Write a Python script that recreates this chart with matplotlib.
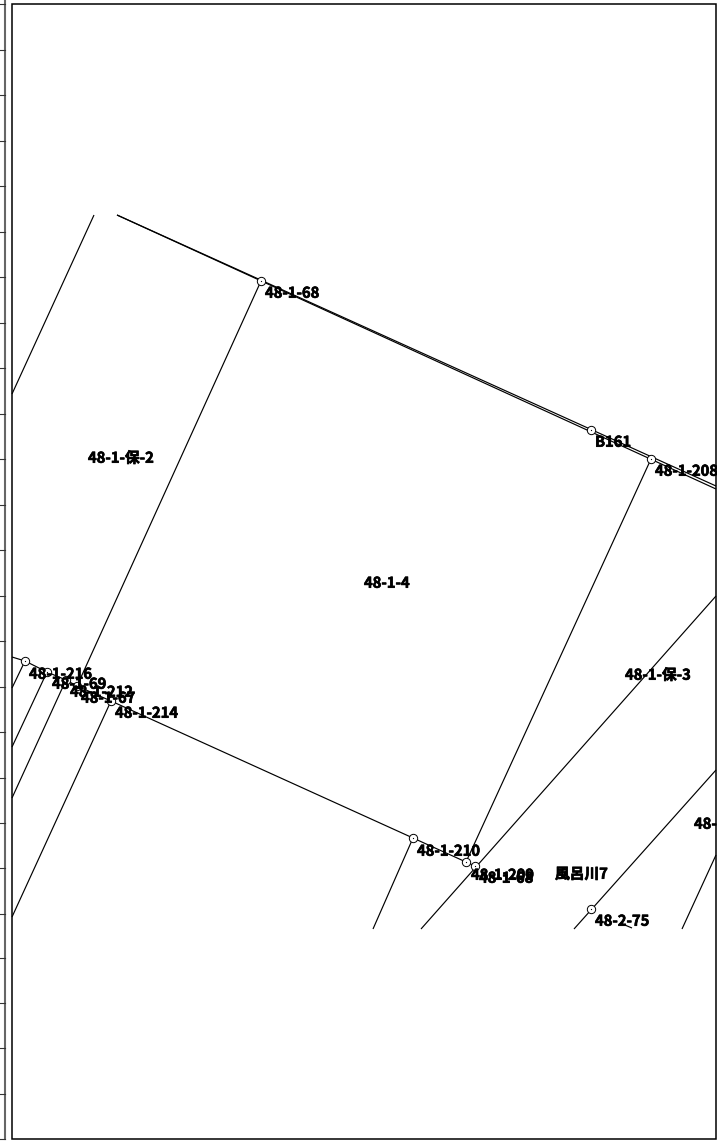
import matplotlib
matplotlib.use("Agg")
import matplotlib.pyplot as plt
import matplotlib.patheffects as pe
from matplotlib.patches import Rectangle

plt.rcParams['font.family'] = ['Noto Sans CJK JP', 'DejaVu Sans']

WIDTH, HEIGHT = 720, 1144

# Parcel boundary polylines (x, y in drawing pixels)
boundaries = [
    [(94, 215), (12, 394)],
    [(117, 215), (716, 489)],
    [(117, 215), (716, 486)],
    [(261, 281), (77, 686)],
    [(12, 657), (25, 661), (47, 672), (66, 680), (77, 686), (111, 701),
     (413, 838), (466, 862), (475, 866)],
    [(25, 661), (12, 688)],
    [(47, 672), (12, 747)],
    [(66, 680), (12, 798)],
    [(111, 701), (12, 917)],
    [(413, 838), (373, 929)],
    [(466, 862), (651, 459)],
    [(421, 929), (716, 596)],
    [(574, 929), (716, 770)],
    [(682, 929), (716, 855)],
    [(620, 923), (632, 928)],
]

# Survey points
point_x = [261, 591, 651, 25, 47, 66, 77, 111, 413, 466, 475, 591]
point_y = [281, 430, 459, 661, 672, 680, 686, 701, 838, 862, 866, 909]

# Text labels: left edge, vertical centre
label_text = ["48-1-68", "B161", "48-1-208", "48-1-保-2", "48-1-4", "48-1-保-3",
              "48-1-216", "48-1-69", "48-1-212", "48-1-67", "48-1-214",
              "48-1-210", "48-1-209", "48-1-68", "風呂川7", "48-2-75", "48-2"]
label_x = [265, 595, 655, 88, 364, 625, 29, 52, 70, 81, 115, 417, 471, 479, 555, 595, 694]
label_y = [292.7, 441.7, 470.7, 457.7, 582.7, 674.7, 673.7, 683.7, 691.7, 697.7, 712.7,
           850.7, 874.7, 877.7, 873.7, 920.7, 823.7]

# Left scale strip
scale_ticks = [4, 50, 95, 141, 186, 232, 277, 323, 368, 414, 459, 505, 550, 596,
               641, 687, 732, 778, 823, 868, 914, 958, 1003, 1048, 1094, 1139]

fig = plt.figure(figsize=(WIDTH / 100, HEIGHT / 100), dpi=100)
ax = fig.add_axes([0, 0, 1, 1])
ax.set_xlim(0, WIDTH)
ax.set_ylim(HEIGHT, 0)
ax.axis("off")

# Scale strip at far left
ax.plot([5, 5], [0, 1139], color="#666666", lw=1.5, zorder=1)
for t in scale_ticks:
    ax.plot([0, 5], [t, t], color="#333333", lw=0.8, zorder=1)

# Main frame
frame = Rectangle((12, 4), 704, 1135, fill=False, edgecolor="black", lw=1.1, zorder=4)
ax.add_patch(frame)

for seg in boundaries:
    xs = [p[0] for p in seg]
    ys = [p[1] for p in seg]
    ax.plot(xs, ys, color="black", lw=0.85, zorder=2, solid_capstyle="butt")

ax.scatter(point_x, point_y, s=36, facecolor="white", edgecolor="black", linewidth=0.7, zorder=3)
ax.scatter(point_x, point_y, s=0.8, color="black", linewidth=0, zorder=3.1)

clip = Rectangle((0, 0), 717, HEIGHT, transform=ax.transData)
for s, x, y in zip(label_text, label_x, label_y):
    t = ax.text(x, y, s, ha="left", va="center", fontsize=10.6, fontweight="bold",
                color="black", zorder=5,
                path_effects=[pe.withStroke(linewidth=0.5, foreground="black")])
    t.set_clip_path(clip)
    t.set_clip_on(True)

fig.savefig("out.png", dpi=100, facecolor="white")
